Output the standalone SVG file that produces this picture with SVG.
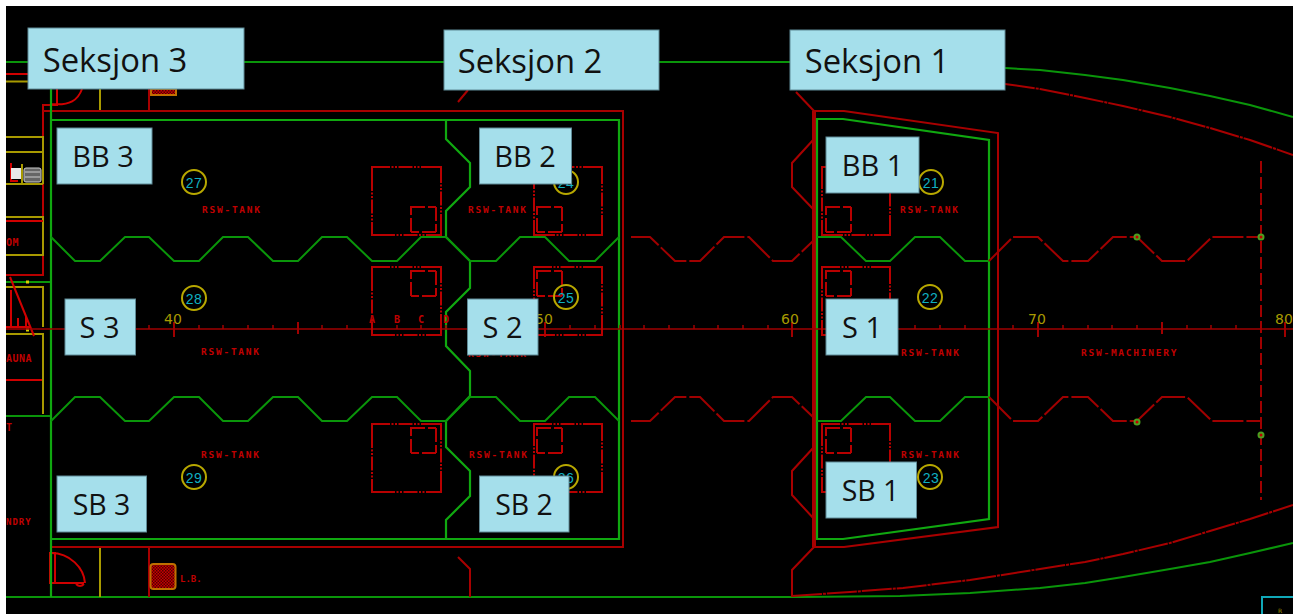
<svg xmlns="http://www.w3.org/2000/svg" width="1293" height="614" viewBox="0 0 1293 614">
<defs>
<pattern id="chk" width="3" height="3" patternUnits="userSpaceOnUse"><rect width="3" height="3" fill="#c80000"/><rect width="1.500" height="1.500" fill="#500000"/><rect x="1.500" y="1.500" width="1.500" height="1.500" fill="#500000"/></pattern>
</defs>
<style>
.g{fill:none;stroke:#0a950a;stroke-width:2}
.gb{fill:none;stroke:#10a810;stroke-width:2.200}
.r{fill:none;stroke:#a80000;stroke-width:2}
.rb{fill:none;stroke:#d00000;stroke-width:2}
.rd{fill:none;stroke:#a00000;stroke-width:2;stroke-dasharray:31 3}
.rh{fill:none;stroke:#a80000;stroke-width:2;stroke-dasharray:30 1 3 1;stroke-linejoin:round}
.y{fill:none;stroke:#a89a00;stroke-width:2}
.c{fill:none;stroke:#b8a800;stroke-width:2}
.tk{fill:none;stroke:#b80000;stroke-width:2;stroke-dasharray:18 1.500 2 1.500 2 1.500 14 1.500 2 1.500 2 1.500 18 0}
.sq{fill:none;stroke:#b80000;stroke-width:2;stroke-dasharray:14 3 8 0}
.n{font:14px "Liberation Sans",sans-serif;fill:#10b0c0;text-anchor:middle;letter-spacing:.5px}
.t{font:bold 9.500px "DejaVu Sans Mono","Liberation Mono",monospace;fill:#c00000;letter-spacing:1.750px}
.s{font-size:10px;letter-spacing:.5px}
.f{font:14px "DejaVu Sans",sans-serif;fill:#a89a00;text-anchor:middle}
.lab{fill:#a5dfeb;stroke:#5f8a96;stroke-width:1}
.lt{font-family:"Open Sans","Noto Sans",sans-serif;fill:#111;text-anchor:middle}
.d{fill:#c00000;stroke:#4aa020;stroke-width:2}
</style>
<rect width="1293" height="614" fill="#fff"/>
<rect x="6" y="6" width="1287" height="608" fill="#000"/>
<g id="hull">
<path class="g" d="M6 62H790"/>
<path class="rb" d="M6 74H30"/>
<path class="y" d="M6 81.500H30"/>
<path class="rh" d="M1005 84L1040 89L1085 98L1123 106L1170 117L1210 128L1250 140L1293 155"/>
<path class="g" d="M1005 68L1040 70L1085 75L1123 80L1170 88L1210 96L1250 105L1293 117"/>
<path class="g" d="M6 597H800L900 596L970 593L1040 588L1085 583L1123 577L1170 569L1210 562L1250 553L1293 543"/>
<path class="rh" d="M792 596L850 592L903 588L970 580L1040 569L1085 562L1123 554L1170 543L1210 531L1250 519L1293 505"/>
<path class="r" d="M458 102L468 90M458 557L470 569V597"/>
<path class="r" d="M796 92L814 111"/>
</g>
<g id="left-rooms">
<path class="rb" d="M51 105H43V275H6" style="stroke:#b80000"/>
<path class="y" d="M6 137H43V184M6 152H43M6 184H43M22 164V184M6 217H43V255H6M6 287H43V327M6 334H43V414M100 89V111M100 547V597"/>
<path class="rb" d="M6 221H43"/>
<path class="g" d="M6 282H51M6 416H51"/>
<path class="rb" d="M11 163V181H18M10 277L34 336M11 290V327M18 318V327M26 316V327M6 327H30"/>
<path class="rb" d="M6 380H42"/>
<path d="M26 282H29M26 330H29" stroke="#d8d000" stroke-width="3"/>
<rect x="11" y="168" width="10" height="11" fill="#e8e8e8"/>
<rect x="24" y="168" width="17" height="14" rx="2" fill="#666" stroke="#ccc"/>
<path d="M25 172H40M25 177H40" stroke="#ccc"/>
<text class="t s" x="6" y="246">OM</text>
<text class="t s" x="6" y="362">AUNA</text>
<text class="t s" x="6" y="525" style="font-size:9px;letter-spacing:1px">NDRY</text>
<text class="t s" x="6" y="431">T</text>
<path class="r" d="M149 111V85M149 548V597"/>
<path class="rb" d="M51 105H57V89M51 89V105M51 104C70 106 78 100 82 89"/>
<rect x="151" y="89" width="25" height="6" fill="url(#chk)" stroke="#c07000" stroke-width="2"/>
<path class="rb" d="M51 583H84M51 553C70 553 84 568 85 583M76 584Q80 588 84 584"/>
<rect x="50" y="553" width="5" height="30" fill="none" stroke="#d00000" stroke-width="2"/>
<rect x="150.500" y="564" width="25" height="25" rx="3" fill="url(#chk)" stroke="#c07000" stroke-width="2"/>
<text class="t" x="180" y="582" style="font-size:9px;letter-spacing:0">L.B.</text>
</g>
<g id="structure">
<path class="r" d="M43 111H623V547H51"/>
<path class="gb" d="M51 62V597M51 120H619V539H51"/>
<path class="gb" d="M446 120V139L470 163V187L446 211V237L470 261V288L446 312V346L470 371V396L446 421V447L470 471V496L446 520V539"/>
<path class="g" d="M51 237L75 261H100L125 237H149L174 261H199L223 237H248L273 261H298L322 237H347L372 261H397L421 237H446L470 261H496L520 237H545L569 261H595L619 237"/>
<path class="g" d="M51 421L75 397H100L125 421H149L174 397H199L223 421H248L273 397H298L322 421H347L372 397H397L421 421H446L470 397H496L520 421H545L569 397H595L619 421"/>
<path class="r" d="M813 111V547M815 111V547M813 547H844L998 527V133L844 111H813"/>
<path class="gb" d="M817 119V539H843L989 519V140L843 119H817Z"/>
<path class="g" d="M817 237H841L866 261H890L915 237H940L965 261H989"/>
<path class="g" d="M817 421H841L866 397H890L915 421H940L965 397H989"/>
<path class="rd" d="M631 237H650L675 261H700L724 237H749L773 261H792L813 241"/>
<path class="rd" d="M631 421H650L675 397H700L724 421H749L773 397H792L813 417"/>
<path class="rd" d="M989 261L1013 237H1038L1063 261H1088L1113 237H1137L1162 261H1187L1212 237H1261"/>
<path class="rd" d="M989 397L1013 421H1038L1063 397H1088L1113 421H1137L1162 397H1187L1212 421H1261"/>
<path class="rd" style="stroke-dasharray:12 4" d="M1261 161V500"/>
<path class="r" d="M814 139L792 163V187L815 211M814 447L792 471V495L815 520M814 547L792 570V597"/>
<circle class="d" cx="1137" cy="237" r="2.500"/><circle class="d" cx="1261" cy="237" r="2.500"/><circle class="d" cx="1137" cy="422" r="2.500"/><circle class="d" cx="1261" cy="435" r="2.500"/>
</g>
<g id="centerline">
<path d="M6 329H1293" stroke="#a00000" stroke-width="1.500"/>
<path stroke="#a00000" stroke-width="1.500" d="M149 325V329M199 325V329M223 325V329M248 325V329M273 325V329M322 325V329M347 325V329M372 320V329M397 325V329M421 325V329M446 325V329M471 325V329M496 325V329M570 325V329M595 325V329M620 325V329M644 325V329M669 325V329M694 325V329M718 325V329M743 325V329M768 325V329M915 325V329M940 325V329M965 325V329M1013 325V329M1063 325V329M1088 325V329M1112 325V329M1137 325V329M1187 325V329M1211 325V329M1236 325V329"/>
<path stroke="#a00000" stroke-width="2" d="M174 322V337M298 322V334M545 322V337M792 322V337M1038 322V337M1162 322V334M1285 322V337"/>
<text class="f" x="173" y="324">40</text><text class="f" x="544" y="324">50</text><text class="f" x="790" y="324">60</text><text class="f" x="1037" y="324">70</text><text class="f" x="1284" y="324">80</text>
<g class="t" style="font-size:10px;letter-spacing:0;text-anchor:middle"><text x="372" y="323">A</text><text x="397" y="323">B</text><text x="421" y="323">C</text><text x="446" y="323">D</text></g>
</g>
<g id="tanks">
<path class="tk" d="M372 167H441V235H372ZM372 267H441V335H372ZM372 424H441V492H372ZM534 167H602V235H534ZM534 267H602V335H534ZM534 424H602V492H534ZM822 167H890V235H822ZM822 267H890V335H822ZM822 424H890V492H822Z"/>
<path class="sq" d="M411 207H436V232H411ZM411 271H436V296H411ZM411 428H436V453H411ZM537 207H562V232H537ZM537 271H562V296H537ZM537 428H562V453H537ZM826 207H851V232H826ZM826 271H851V296H826ZM826 428H851V453H826Z"/>
<g class="t"><text x="202" y="213">RSW-TANK</text><text x="201" y="355">RSW-TANK</text><text x="201" y="458">RSW-TANK</text><text x="468" y="213">RSW-TANK</text><text x="468" y="357">RSW-TANK</text><text x="469" y="458">RSW-TANK</text><text x="900" y="213">RSW-TANK</text><text x="901" y="356">RSW-TANK</text><text x="901" y="458">RSW-TANK</text><text x="1081" y="356">RSW-MACHINERY</text></g>
<g><circle class="c" cx="194" cy="182" r="12"/><text class="n" x="194" y="188">27</text>
<circle class="c" cx="194" cy="298" r="12"/><text class="n" x="194" y="304">28</text>
<circle class="c" cx="194" cy="477" r="12"/><text class="n" x="194" y="483">29</text>
<circle class="c" cx="566" cy="182" r="12"/><text class="n" x="566" y="188">24</text>
<circle class="c" cx="566" cy="297" r="12"/><text class="n" x="566" y="303">25</text>
<circle class="c" cx="566" cy="477" r="12"/><text class="n" x="566" y="483">26</text>
<circle class="c" cx="931" cy="182" r="12"/><text class="n" x="931" y="188">21</text>
<circle class="c" cx="930" cy="297" r="12"/><text class="n" x="930" y="303">22</text>
<circle class="c" cx="930" cy="477" r="12"/><text class="n" x="931" y="483">23</text></g>
</g>
<g id="seksjon-3"><rect class="lab" x="28" y="28" width="216" height="61"/><text class="lt" x="115" y="72" font-size="32.800">Seksjon 3</text></g>
<g id="seksjon-2"><rect class="lab" x="444" y="30" width="215" height="60"/><text class="lt" x="530" y="73" font-size="32.800">Seksjon 2</text></g>
<g id="seksjon-1"><rect class="lab" x="790" y="30" width="215" height="60"/><text class="lt" x="877" y="73" font-size="32.800">Seksjon 1</text></g>
<g id="bb-3"><rect class="lab" x="57" y="128" width="95" height="56"/><text class="lt" x="103" y="167" font-size="29">BB 3</text></g>
<g id="s-3"><rect class="lab" x="65" y="299" width="70.500" height="56"/><text class="lt" x="99.500" y="338" font-size="29">S 3</text></g>
<g id="sb-3"><rect class="lab" x="57" y="476" width="89.500" height="56"/><text class="lt" x="101.500" y="515" font-size="28.500">SB 3</text></g>
<g id="bb-2"><rect class="lab" x="479.500" y="128" width="92" height="56"/><text class="lt" x="525" y="167" font-size="29">BB 2</text></g>
<g id="s-2"><rect class="lab" x="467.500" y="299" width="70.500" height="56"/><text class="lt" x="502.500" y="338" font-size="29">S 2</text></g>
<g id="sb-2"><rect class="lab" x="479.500" y="476" width="89.500" height="56"/><text class="lt" x="524" y="515" font-size="28.500">SB 2</text></g>
<g id="bb-1"><rect class="lab" x="826" y="137" width="93" height="56"/><text class="lt" x="872.500" y="176" font-size="29">BB 1</text></g>
<g id="s-1"><rect class="lab" x="826" y="299" width="72" height="56"/><text class="lt" x="862" y="338" font-size="29">S 1</text></g>
<g id="sb-1"><rect class="lab" x="826" y="462" width="90.500" height="56"/><text class="lt" x="870.500" y="501" font-size="28.500">SB 1</text></g>
<g id="corner"><path d="M1262 614V597H1293" fill="none" stroke="#10a8b8" stroke-width="2"/><text x="1278" y="613" font-family="DejaVu Sans,sans-serif" font-size="6" fill="#a89a00">R</text></g>
</svg>
